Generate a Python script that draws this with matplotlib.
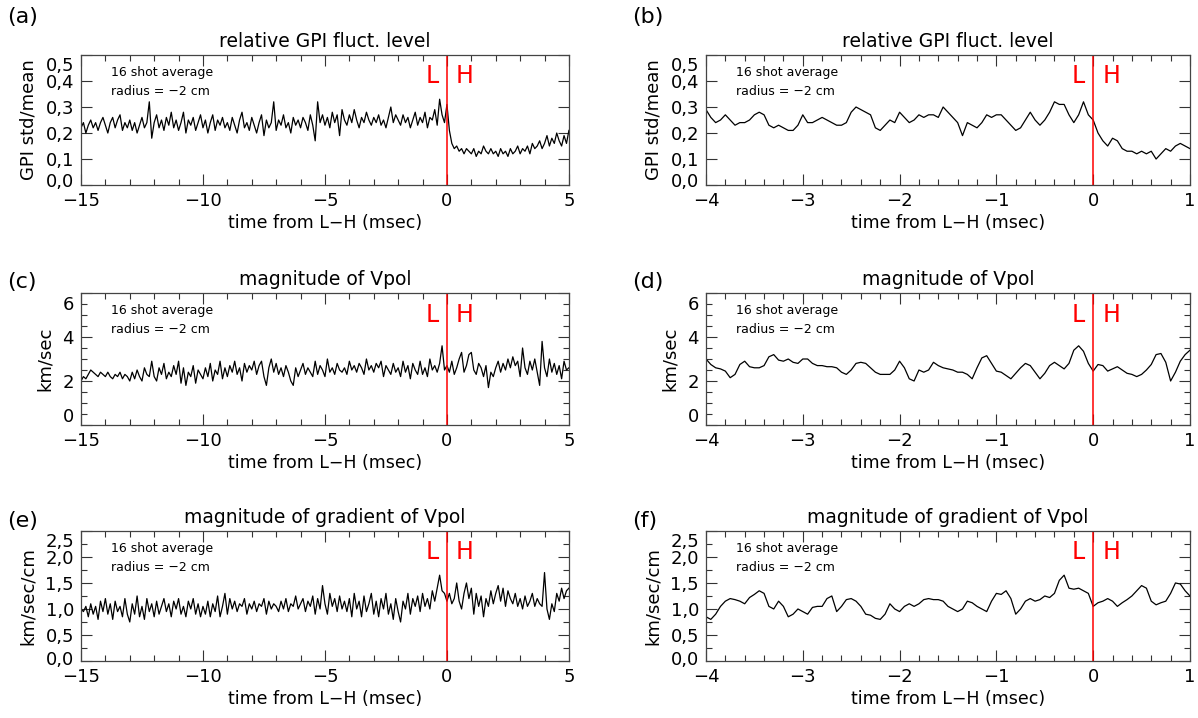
import numpy as np
import matplotlib.pyplot as plt
from matplotlib.ticker import MultipleLocator, FuncFormatter
from matplotlib.transforms import ScaledTranslation

# ---- data ----
# long window: -15 .. 5 msec, 0.1 msec step
gpi_long = [0.22, 0.24, 0.20, 0.23, 0.25, 0.22, 0.24, 0.21, 0.24, 0.26,
            0.23, 0.20, 0.24, 0.26, 0.22, 0.25, 0.27, 0.21, 0.24, 0.22,
            0.25, 0.21, 0.24, 0.20, 0.23, 0.26, 0.22, 0.24, 0.32, 0.18,
            0.24, 0.27, 0.22, 0.25, 0.21, 0.26, 0.23, 0.28, 0.22, 0.25,
            0.21, 0.24, 0.28, 0.20, 0.25, 0.23, 0.26, 0.21, 0.24, 0.27,
            0.22, 0.25, 0.20, 0.24, 0.27, 0.21, 0.25, 0.23, 0.26, 0.22,
            0.24, 0.21, 0.26, 0.23, 0.20, 0.25, 0.28, 0.22, 0.24, 0.21,
            0.26, 0.23, 0.20, 0.24, 0.27, 0.19, 0.25, 0.22, 0.24, 0.32,
            0.21, 0.25, 0.23, 0.27, 0.22, 0.24, 0.20, 0.26, 0.23, 0.25,
            0.22, 0.26, 0.24, 0.21, 0.27, 0.23, 0.17, 0.32, 0.24, 0.27,
            0.23, 0.26, 0.22, 0.28, 0.24, 0.27, 0.19, 0.29, 0.25, 0.23,
            0.27, 0.24, 0.29, 0.25, 0.22, 0.26, 0.24, 0.28, 0.25, 0.23,
            0.26, 0.24, 0.27, 0.23, 0.25, 0.22, 0.26, 0.30, 0.24, 0.27,
            0.25, 0.23, 0.27, 0.24, 0.26, 0.22, 0.25, 0.28, 0.23, 0.26,
            0.24, 0.28, 0.22, 0.26, 0.25, 0.29, 0.23, 0.33, 0.27, 0.24,
            0.31, 0.21, 0.16, 0.14, 0.15, 0.13, 0.14, 0.12, 0.14, 0.13,
            0.12, 0.14, 0.11, 0.13, 0.12, 0.15, 0.13, 0.12, 0.14, 0.12,
            0.13, 0.11, 0.14, 0.12, 0.13, 0.11, 0.14, 0.12, 0.13, 0.15,
            0.12, 0.14, 0.13, 0.15, 0.12, 0.16, 0.14, 0.15, 0.17, 0.14,
            0.16, 0.19, 0.15, 0.18, 0.16, 0.20, 0.17, 0.15, 0.19, 0.16,
            0.21]

vpol_long = [2.0, 2.2, 2.1, 2.3, 2.5, 2.4, 2.3, 2.2, 2.4, 2.3,
             2.2, 2.4, 2.2, 2.1, 2.3, 2.2, 2.4, 2.1, 2.3, 2.2,
             2.0, 2.4, 2.1, 2.5, 2.2, 2.0, 2.6, 2.3, 2.2, 2.9,
             2.2, 2.0, 2.6, 2.3, 2.8, 2.1, 2.4, 2.2, 2.7, 2.3,
             2.9, 1.9, 2.6, 1.8, 2.4, 2.2, 2.7, 1.9, 2.5, 2.3,
             2.1, 2.6, 2.2, 2.8, 2.0, 2.5, 2.3, 2.9, 2.1, 2.6,
             2.2, 2.7, 2.4, 2.9, 2.3, 2.6, 2.0, 2.8, 2.4, 2.7,
             2.5, 2.9, 2.3, 2.7, 2.9, 2.2, 1.8, 2.6, 3.0, 2.4,
             2.8, 2.3, 2.6, 2.2, 2.7, 2.4, 2.0, 1.8, 2.6, 2.2,
             2.5, 2.8, 2.3, 2.6, 2.4, 2.2, 2.9, 2.3, 2.7, 2.5,
             2.2, 3.0, 2.4, 2.6, 2.3, 2.8, 2.5, 2.4, 2.6, 2.3,
             2.9, 2.5, 2.7, 2.4, 2.8, 2.6, 2.3, 3.0, 2.5, 2.7,
             2.4, 2.8, 2.6, 2.9, 2.2, 2.7, 2.5, 2.3, 2.8, 2.4,
             2.6, 2.2, 2.9, 2.4, 2.7, 2.1, 2.8, 2.5, 2.3, 2.9,
             2.3, 2.6, 2.2, 3.0, 2.5, 2.7, 2.4, 2.8, 3.6, 2.5,
             2.7, 2.4, 2.9, 2.3, 2.6, 3.0, 3.3, 2.4, 2.7, 3.2,
             3.3, 2.5, 2.3, 2.8, 2.6, 2.2, 2.7, 1.7, 2.4, 2.2,
             2.6, 2.9, 2.4, 2.8, 2.5, 3.0, 2.6, 3.1, 2.7, 2.9,
             2.2, 3.5, 2.6, 2.3, 2.9, 2.5, 3.0, 2.4, 1.8, 3.8,
             2.6, 2.2, 3.0, 2.4, 2.8, 2.3, 2.7, 2.1, 2.9, 2.5,
             2.6]

grad_long = [1.0, 0.95, 1.05, 0.85, 1.1, 0.9, 1.05, 0.8, 1.15, 0.95,
             1.2, 0.9, 1.1, 0.8, 1.15, 0.95, 1.05, 0.85, 1.2, 0.9,
             0.75, 1.1, 0.9, 1.25, 0.85, 1.05, 0.8, 1.2, 0.95, 1.1,
             0.85, 1.15, 0.9, 1.05, 1.2, 0.95, 1.1, 0.85, 1.15, 1.0,
             1.2, 0.9, 1.05, 0.85, 1.15, 1.0, 1.2, 0.9, 1.1, 0.85,
             1.05, 0.9, 1.15, 0.85, 1.1, 0.95, 1.25, 0.85, 1.05, 1.3,
             0.9, 1.2, 1.0, 1.15, 0.95, 1.1, 1.05, 1.2, 0.9, 1.1,
             1.0, 1.15, 0.95, 1.1, 1.05, 1.2, 0.9, 1.15, 1.0, 1.1,
             1.05, 0.95, 1.15, 1.0, 1.2, 0.95, 1.1, 1.05, 1.25, 1.0,
             1.1, 1.2, 0.95, 1.15, 1.05, 1.25, 0.9, 1.2, 1.0, 1.45,
             1.1, 0.9, 1.3, 1.05, 1.2, 0.95, 1.25, 1.0, 1.15, 0.95,
             1.2, 0.85, 1.3, 1.0, 1.15, 0.85, 1.25, 0.95, 1.1, 1.3,
             0.9, 1.15, 0.85, 1.2, 1.0, 1.3, 0.9, 1.1, 0.8, 1.2,
             0.95, 0.75, 1.15, 1.0, 1.3, 0.9, 1.2, 1.05, 1.25, 0.95,
             1.3, 1.05, 1.2, 1.0, 1.35, 1.15, 1.4, 1.65, 1.35, 1.3,
             1.15, 1.3, 1.1, 1.2, 1.5, 1.15, 1.0, 1.3, 1.5, 1.2,
             1.4, 0.9, 1.3, 1.05, 1.25, 0.85, 1.2, 1.05, 1.35, 1.1,
             1.3, 1.45, 1.15, 1.4, 1.05, 1.35, 1.2, 1.1, 1.3, 1.05,
             1.2, 1.0, 1.25, 1.05, 1.15, 1.3, 1.05, 1.2, 1.1, 1.05,
             1.7, 1.0, 0.8, 1.1, 0.95, 1.3, 1.15, 1.4, 1.2, 1.35,
             1.4]

# short window: -4 .. 1 msec, 0.05 msec step
gpi_short = [0.29, 0.26, 0.24, 0.25, 0.27, 0.25, 0.23, 0.24, 0.24, 0.25,
             0.27, 0.28, 0.27, 0.23, 0.22, 0.23, 0.22, 0.21, 0.21, 0.23,
             0.27, 0.24, 0.24, 0.25, 0.26, 0.25, 0.24, 0.23, 0.23, 0.24,
             0.28, 0.30, 0.29, 0.28, 0.27, 0.22, 0.21, 0.23, 0.25, 0.24,
             0.28, 0.26, 0.24, 0.25, 0.27, 0.26, 0.27, 0.27, 0.26, 0.30,
             0.28, 0.26, 0.24, 0.19, 0.24, 0.23, 0.22, 0.24, 0.27, 0.26,
             0.27, 0.27, 0.25, 0.23, 0.21, 0.22, 0.25, 0.28, 0.25, 0.23,
             0.25, 0.28, 0.32, 0.31, 0.31, 0.27, 0.24, 0.27, 0.32, 0.27,
             0.25, 0.20, 0.17, 0.15, 0.18, 0.17, 0.14, 0.13, 0.13, 0.12,
             0.13, 0.12, 0.13, 0.10, 0.12, 0.14, 0.13, 0.15, 0.16, 0.15,
             0.14]

vpol_short = [3.00, 2.75, 2.60, 2.55, 2.45, 2.15, 2.30, 2.75, 2.90, 2.65,
              2.60, 2.60, 2.70, 3.10, 3.20, 2.95, 2.90, 3.00, 2.85, 2.80,
              3.00, 3.00, 2.80, 2.70, 2.70, 2.65, 2.65, 2.60, 2.40, 2.30,
              2.50, 2.80, 2.85, 2.80, 2.60, 2.40, 2.30, 2.30, 2.30, 2.50,
              2.90, 2.60, 2.10, 2.00, 2.50, 2.40, 2.50, 2.85, 2.70, 2.60,
              2.55, 2.50, 2.40, 2.40, 2.30, 2.10, 2.60, 3.05, 3.15, 2.80,
              2.45, 2.40, 2.25, 2.10, 2.35, 2.60, 2.80, 2.70, 2.40, 2.10,
              2.35, 2.70, 2.85, 2.70, 2.55, 2.80, 3.40, 3.60, 3.35, 2.80,
              2.45, 2.75, 2.70, 2.45, 2.55, 2.65, 2.50, 2.35, 2.30, 2.20,
              2.30, 2.50, 2.75, 3.20, 3.25, 2.85, 2.00, 2.40, 2.90, 3.20,
              3.40]

grad_short = [0.85, 0.80, 0.90, 1.05, 1.15, 1.20, 1.18, 1.15, 1.10, 1.22,
              1.28, 1.35, 1.30, 1.05, 1.00, 1.15, 1.05, 0.85, 0.90, 1.00,
              0.95, 0.90, 1.03, 1.05, 1.05, 1.20, 1.25, 0.95, 1.05, 1.18,
              1.20, 1.15, 1.05, 0.90, 0.88, 0.82, 0.80, 0.90, 1.10, 1.00,
              0.95, 1.05, 1.10, 1.05, 1.10, 1.18, 1.20, 1.18, 1.18, 1.15,
              1.05, 1.00, 0.95, 1.00, 1.15, 1.12, 1.05, 1.00, 0.95, 1.15,
              1.30, 1.28, 1.35, 1.20, 0.90, 1.00, 1.15, 1.20, 1.15, 1.18,
              1.25, 1.22, 1.30, 1.55, 1.65, 1.40, 1.38, 1.40, 1.35, 1.30,
              1.05, 1.12, 1.15, 1.20, 1.15, 1.05, 1.12, 1.18, 1.25, 1.35,
              1.45, 1.40, 1.15, 1.08, 1.12, 1.15, 1.30, 1.50, 1.48, 1.35,
              1.25]

t_long = np.linspace(-15, 5, len(gpi_long))
t_short = np.linspace(-4, 1, len(gpi_short))

titles = ['relative GPI fluct. level', 'magnitude of Vpol', 'magnitude of gradient of Vpol']
ylabels = ['GPI std/mean', 'km/sec', 'km/sec/cm']
letters = ['(a)', '(b)', '(c)', '(d)', '(e)', '(f)']
yticks = [[0, 0.1, 0.2, 0.3, 0.4, 0.5], [0, 2, 4, 6], [0, 0.5, 1.0, 1.5, 2.0, 2.5]]

plt.rcParams['font.family'] = 'DejaVu Sans'

fig = plt.figure(figsize=(11.98, 7.18), dpi=100)

col_x = [0.0676, 0.5893]
col_w = [0.4073, 0.4040]
row_y = [0.7423, 0.4081, 0.0794]
row_h = [0.1811, 0.1838, 0.1811]
letter_y = [1 - 17 / 718, 1 - 282 / 718, 1 - 521 / 718]
letter_x = [0.006, 0.528]
# how far (px) the end tick labels sit inside the frame: (bottom up, top down)
end_shift = [(5, 9), (10, 10), (3, 9)]

comma = FuncFormatter(lambda v, p: ('%.1f' % v).replace('.', ','))
plain = FuncFormatter(lambda v, p: ('%d' % round(v)).replace('-', '\u2212'))

series = [(gpi_long, gpi_short), (vpol_long, vpol_short), (grad_long, grad_short)]
ymin = [None, 0.5, 0.25]

for r in range(3):
    for c in range(2):
        ax = fig.add_axes([col_x[c], row_y[r], col_w[c], row_h[r]])
        if c == 0:
            t, y = t_long, series[r][0]
            ax.set_xlim(-15, 5)
            ax.xaxis.set_major_locator(MultipleLocator(5))
            ax.xaxis.set_minor_locator(MultipleLocator(1))
        else:
            t, y = t_short, series[r][1]
            ax.set_xlim(-4, 1)
            ax.xaxis.set_major_locator(MultipleLocator(1))
            ax.xaxis.set_minor_locator(MultipleLocator(0.2))
        ax.plot(t, y, color='black', lw=0.9)
        ax.axvline(0, color='red', lw=1.1)
        ax.set_yticks(yticks[r])
        ax.set_ylim(yticks[r][0], yticks[r][-1])
        if ymin[r]:
            ax.yaxis.set_minor_locator(MultipleLocator(ymin[r]))
        ax.yaxis.set_major_formatter(plain if r == 1 else comma)
        ax.xaxis.set_major_formatter(plain)
        ax.tick_params(which='both', direction='in', top=True, right=True,
                       labelsize=13, width=0.8, color='#333333')
        ax.tick_params(which='major', length=8, pad=5)
        ax.tick_params(which='minor', length=4)
        # end labels pulled a little inside the frame, as in the original
        ylab = ax.get_yticklabels()
        up, down = end_shift[r]
        ylab[0].set_transform(ylab[0].get_transform() +
                              ScaledTranslation(0, up / 100, fig.dpi_scale_trans))
        ylab[-1].set_transform(ylab[-1].get_transform() +
                               ScaledTranslation(0, -down / 100, fig.dpi_scale_trans))
        for s in ax.spines.values():
            s.set_linewidth(0.9)
            s.set_color('#444444')
        ax.set_title(titles[r], fontsize=13.5, pad=6)
        ax.set_xlabel('time from L\u2212H (msec)', fontsize=12.5, labelpad=3)
        ax.set_ylabel(ylabels[r], fontsize=13, labelpad=6)
        ax.text(0.061, 0.865, '16 shot average', transform=ax.transAxes,
                fontsize=9, va='center', ha='left')
        ax.text(0.061, 0.72, 'radius = \u22122 cm', transform=ax.transAxes,
                fontsize=9, va='center', ha='left')
        ax.annotate('L', xy=(0, 0.835), xycoords=('data', 'axes fraction'),
                    xytext=(-15, 0), textcoords='offset pixels',
                    color='red', fontsize=17, ha='center', va='center')
        ax.annotate('H', xy=(0, 0.835), xycoords=('data', 'axes fraction'),
                    xytext=(18, 0), textcoords='offset pixels',
                    color='red', fontsize=17, ha='center', va='center')
        fig.text(letter_x[c], letter_y[r], letters[r * 2 + c], fontsize=16,
                 ha='left', va='center')

fig.savefig('out.png', dpi=100)
